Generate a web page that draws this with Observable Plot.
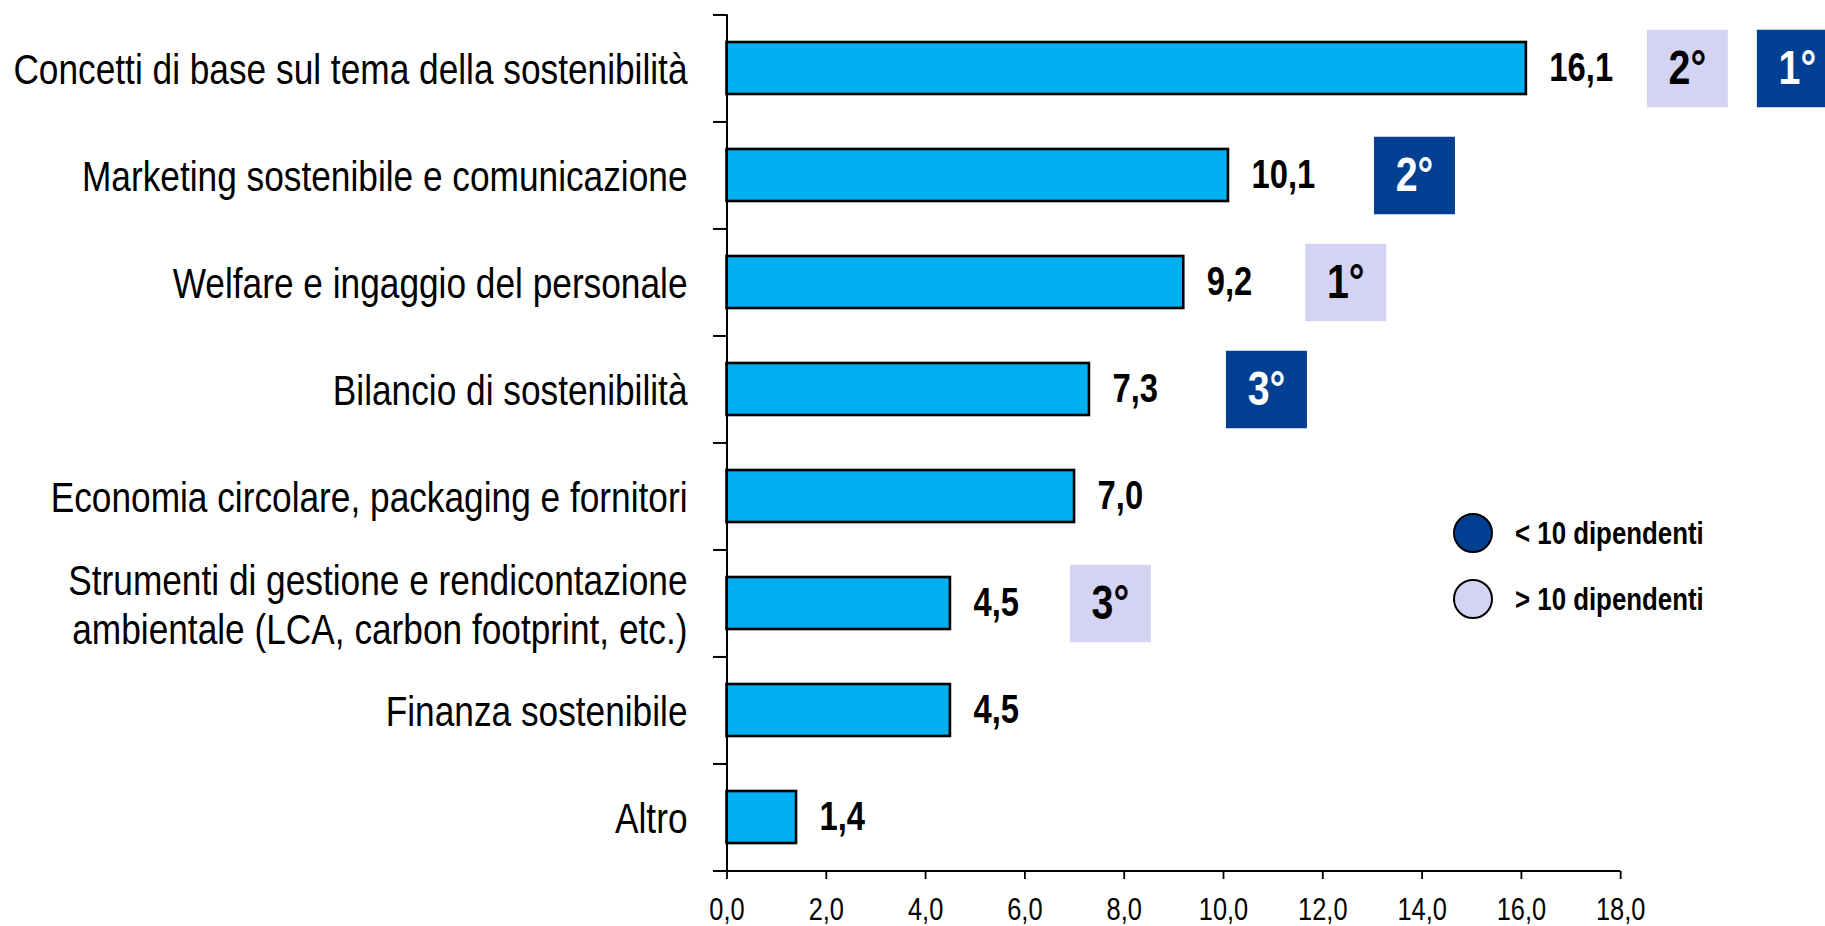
<!DOCTYPE html>
<html>
<head>
<meta charset="utf-8">
<script src="https://cdn.jsdelivr.net/npm/d3@7"></script>
<script src="https://cdn.jsdelivr.net/npm/@observablehq/plot@0.6"></script>
<style>
  html, body { margin: 0; padding: 0; background: #fff; }
  #wrap { position: relative; width: 1825px; height: 926px; overflow: hidden; }
  #legend { position: absolute; left: 0; top: 0; font-family: "Liberation Sans", Arial, sans-serif; font-weight: bold; font-size: 31.5px; color: #000; }
  .lg { position: absolute; display: flex; align-items: center; white-space: nowrap; }
  .sw { width: 36px; height: 36px; border-radius: 50%; border: 2px solid #000; margin-right: 22px; box-sizing: content-box; flex: none; }
  .lt { display: inline-block; transform: scaleX(0.82); transform-origin: left center; }
</style>
</head>
<body>
<div id="wrap"><div id="chart"></div><div id="legend"></div></div>
<script>
// ---- data ----
const categories = [
  "Concetti di base sul tema della sostenibilità",
  "Marketing sostenibile e comunicazione",
  "Welfare e ingaggio del personale",
  "Bilancio di sostenibilità",
  "Economia circolare, packaging e fornitori",
  "Strumenti di gestione e rendicontazione\nambientale (LCA, carbon footprint, etc.)",
  "Finanza sostenibile",
  "Altro"
];
const values = [16.1, 10.1, 9.2, 7.3, 7.0, 4.5, 4.5, 1.4];
const xTicks = [0, 2, 4, 6, 8, 10, 12, 14, 16, 18];

// rank badges: category index, rank label, group
const badgeCategory = [0, 0, 1, 2, 3, 5];
const badgeRank = ["2°", "1°", "2°", "1°", "3°", "3°"];
const badgeGroup = ["> 10 dipendenti", "< 10 dipendenti", "< 10 dipendenti", "> 10 dipendenti", "< 10 dipendenti", "> 10 dipendenti"];
const groups = ["< 10 dipendenti", "> 10 dipendenti"];

// ---- styles / layout ----
const groupFill = {"< 10 dipendenti": "#003F91", "> 10 dipendenti": "#D4D3F3"};
const groupText = {"< 10 dipendenti": "#FFFFFF", "> 10 dipendenti": "#000000"};
const badgeOffsets = [161, 271, 186, 162, 177, 160]; // px to the right of bar end
const font = '"Liberation Sans", Arial, sans-serif';
const NARROW = 0.82; // horizontal compression to mimic Arial Narrow

const W = 1825, H = 926;
const mTop = 14.3, mBottom = 55, mLeft = 726.5, mRight = 204.8;
const pInner = 0.51, pOuter = pInner / 2;
const step = (H - mTop - mBottom) / (categories.length - pInner + 2 * pOuter);

const bars = categories.map((c, i) => ({cat: c, value: values[i]}));
const badges = badgeCategory.map((ci, i) => ({
  cat: categories[ci], value: values[ci], rank: badgeRank[i], group: badgeGroup[i], off: badgeOffsets[i]
}));
const fmt = v => v.toFixed(1).replace(".", ",");

const boxSymbol = {draw(ctx) { ctx.rect(-40.5, -38.8, 81, 77.6); }};

const marks = [
  Plot.barX(bars, {x: "value", y: "cat", fill: "#00B0F0", stroke: "#000", strokeWidth: 2.6}),
  Plot.text(bars, {x: "value", y: "cat", text: d => fmt(d.value), dx: 23, textAnchor: "start",
    fontSize: 40, fontWeight: "bold", fill: "#000"}),
  Plot.text(categories, {x: 0, y: d => d, text: d => d, dx: -39.5, textAnchor: "end",
    fontSize: 43, lineHeight: 1.16, fill: "#000"}),
  Plot.ruleX([0], {stroke: "#000", strokeWidth: 2}),
  Plot.axisY({ticks: categories, tickSize: 13.5, tickFormat: () => "", dy: -step / 2, strokeWidth: 2}),
  Plot.ruleY([categories[categories.length - 1]], {dy: step / 2, insetLeft: -13.5, stroke: "#000", strokeWidth: 2}),
  Plot.axisX({ticks: xTicks, tickSize: 8, tickPadding: 18, tickFormat: fmt, fontSize: 31, strokeWidth: 1.8}),
];
badges.forEach(b => {
  marks.push(Plot.dot([b], {x: "value", y: "cat", dx: b.off, symbol: boxSymbol, r: 10, fill: groupFill[b.group], stroke: null}));
  marks.push(Plot.text([b], {x: "value", y: "cat", dx: b.off, text: "rank", fontSize: 48, fontWeight: "bold", fill: groupText[b.group]}));
});

const chart = Plot.plot({
  width: W, height: H,
  marginTop: mTop, marginBottom: mBottom, marginLeft: mLeft, marginRight: mRight,
  style: {fontFamily: font, background: "#fff", color: "#000", overflow: "visible"},
  x: {domain: [0, 18], label: null},
  y: {domain: categories, paddingInner: pInner, paddingOuter: pOuter, label: null},
  marks
});
// compress every text horizontally around its own anchor (Arial Narrow look)
chart.querySelectorAll("text").forEach(t => {
  let x = parseFloat(t.getAttribute("x"));
  if (!isFinite(x)) x = 0;
  const tr = t.getAttribute("transform") || "";
  t.setAttribute("transform", `${tr} translate(${x},0) scale(${NARROW},1) translate(${-x},0)`);
});
document.getElementById("chart").appendChild(chart);

// legend (inside plot area, right side)
const legend = document.getElementById("legend");
const legendPos = [{left: 1453, top: 533}, {left: 1453, top: 599}];
groups.forEach((g, i) => {
  const row = document.createElement("div");
  row.className = "lg";
  row.style.left = legendPos[i].left + "px";
  row.style.top = (legendPos[i].top - 20) + "px";
  row.style.height = "40px";
  const sw = document.createElement("div");
  sw.className = "sw";
  sw.style.background = groupFill[g];
  row.appendChild(sw);
  const t = document.createElement("span");
  t.className = "lt";
  t.textContent = g;
  row.appendChild(t);
  legend.appendChild(row);
});
</script>
</body>
</html>
